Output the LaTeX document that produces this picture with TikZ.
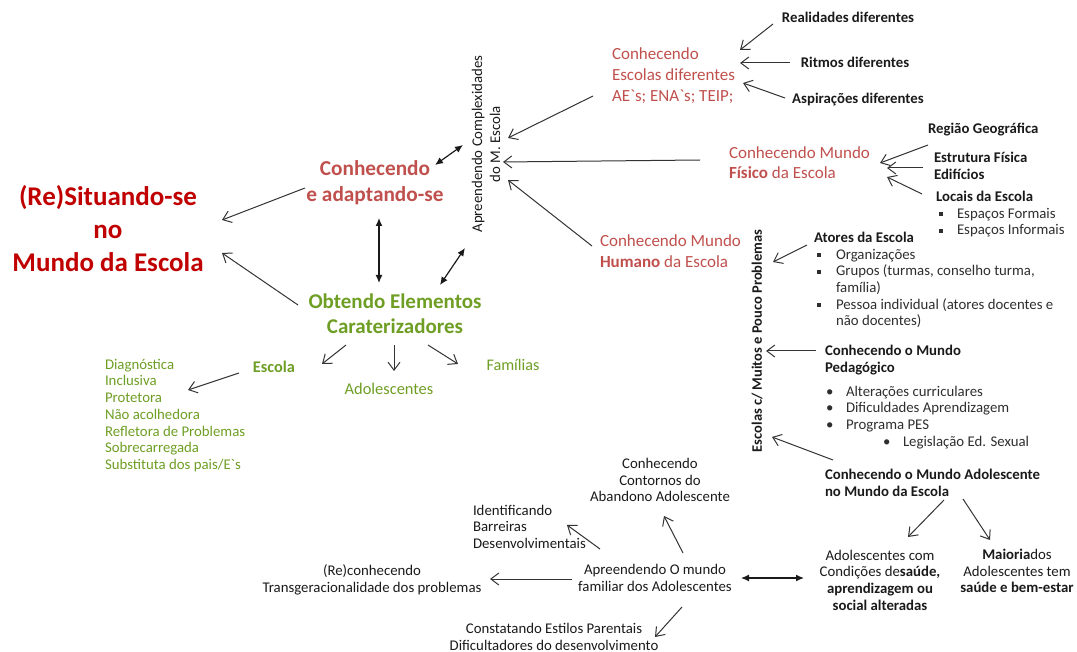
\documentclass[tikz,border=0pt]{standalone}
\usepackage{fontspec}
\setmainfont{Carlito}
\usetikzlibrary{arrows.meta,calc}
\definecolor{titlered}{HTML}{C00000}
\definecolor{softred}{HTML}{C0504D}
\definecolor{leaf}{HTML}{6E9E24}
\definecolor{ink}{HTML}{1A1A1A}
\definecolor{soft}{HTML}{2E2E2E}
\definecolor{wire}{HTML}{333333}
\newcommand\fsz[2]{\fontsize{#1}{#2}\selectfont}
\newcommand\sqb{\rule[2pt]{4pt}{4pt}}
\newcommand\gr{\textasciigrave}
\tikzset{
  every node/.style={inner sep=0pt, outer sep=0pt, text=ink},
  lab/.style={font=\fsz{14.8}{16.7}},
  blab/.style={font=\bfseries\fsz{14.8}{16.7}},
  arr/.style={draw=wire, line width=1pt, -{Straight Barb[length=8pt,width=12pt,line width=1pt]}},
  dbl/.style={draw=ink, line width=1.2pt, {Latex[length=8pt,width=7pt]}-{Latex[length=8pt,width=7pt]}},
}
\begin{document}
\begin{tikzpicture}[x=1pt,y=-1pt]
\useasboundingbox (0,0) rectangle (1077,652);

% central concept and its two pillars
\node[align=center, text=titlered, font=\bfseries\fsz{27}{33}] (title) at (108,229)
  {(Re)Situando-se\\no\\Mundo da Escola};
\node[align=center, text=softred, font=\bfseries\fsz{21.3}{26}] (cad) at (375,183)
  {Conhecendo\\e adaptando-se};
\node[align=center, text=leaf, font=\bfseries\fsz{21}{25}] (obt) at (395,314)
  {Obtendo Elementos\\Caraterizadores};
\node[lab, align=center, rotate=90, font=\fsz{14.8}{18}] (apr) at (486,144)
  {Apreendendo Complexidades\\do M. Escola};

% school types
\node[align=left, anchor=north west, text=softred, font=\fsz{17}{21}] (esc) at (612,47.5)
  {Conhecendo\\Escolas diferentes\\AE\gr s; ENA\gr s; TEIP;};
\node[blab] (real) at (848,17) {Realidades diferentes};
\node[blab] (ritm) at (855,62) {Ritmos diferentes};
\node[blab] (aspi) at (858,100) {Aspirações diferentes};

% physical world
\node[align=left, anchor=north west, text=softred, font=\fsz{17}{20}] (fis) at (729,146.5)
  {Conhecendo Mundo\\\textbf{Físico} da Escola};
\node[blab, anchor=west] (reg) at (928,130) {Região Geográfica};
\node[blab, align=left, anchor=north west] (estr) at (934,152) {Estrutura Física\\Edifícios};
\node[lab, align=left, anchor=north west] (loc) at (936,191)
  {\textbf{Locais da Escola}\\
   \textcolor{soft}{\makebox[21pt][l]{\hspace{3pt}\sqb}Espaços Formais}\\
   \textcolor{soft}{\makebox[21pt][l]{\hspace{3pt}\sqb}Espaços Informais}};

% human world
\node[align=left, anchor=north west, text=softred, font=\fsz{17}{21}] (hum) at (600,234.5)
  {Conhecendo Mundo\\\textbf{Humano} da Escola};
\node[blab, rotate=90, font=\bfseries\fsz{14.5}{17}] (esv) at (757,341) {Escolas c/ Muitos e Pouco Problemas};
\node[lab, align=left, anchor=north west] (atores) at (814,232)
  {\textbf{Atores da Escola}\\
   \textcolor{soft}{\makebox[22pt][l]{\hspace{3pt}\sqb}Organizações}\\
   \textcolor{soft}{\makebox[22pt][l]{\hspace{3pt}\sqb}Grupos (turmas, conselho turma,}\\
   \textcolor{soft}{\hspace{22pt}família)}\\
   \textcolor{soft}{\makebox[22pt][l]{\hspace{3pt}\sqb}Pessoa individual (atores docentes e}\\
   \textcolor{soft}{\hspace{22pt}não docentes)}};
\node[blab, align=left, anchor=north west] (ped) at (825,345)
  {Conhecendo o Mundo\\Pedagógico};
\node[lab, align=left, anchor=north west, text=soft] (pedl) at (826,386)
  {\makebox[20pt][l]{•}Alterações curriculares\\
   \makebox[20pt][l]{•}Dificuldades Aprendizagem\\
   \makebox[20pt][l]{•}Programa PES\\
   \hspace{57pt}\makebox[20pt][l]{•}Legislação Ed. Sexual};
\node[blab, align=left, anchor=north west] (adm) at (825,469)
  {Conhecendo o Mundo Adolescente\\no Mundo da Escola};
\node[lab, align=center] (acom) at (880,580)
  {Adolescentes com\\Condições de\textbf{saúde,}\\\textbf{aprendizagem ou}\\\textbf{social alteradas}};
\node[lab, align=center] (maio) at (1017,571)
  {\textbf{Maioria}dos\\Adolescentes tem\\\textbf{saúde e bem-estar}};

% family world
\node[lab, align=center] (apm) at (655,578) {Apreendendo O mundo\\familiar dos Adolescentes};
\node[lab, align=center] (cont) at (660,480) {Conhecendo\\Contornos do\\Abandono Adolescente};
\node[lab, align=left, anchor=north west] (ident) at (473,505) {Identificando\\Barreiras\\Desenvolvimentais};
\node[lab, align=center] (reco) at (372,580) {(Re)conhecendo\\Transgeracionalidade dos problemas};
\node[lab, align=center] (const) at (554,637) {Constatando Estilos Parentais\\Dificultadores do desenvolvimento};

% characterising elements
\node[text=leaf, font=\bfseries\fsz{16.3}{18}] (gesc) at (274,367) {Escola};
\node[text=leaf, font=\fsz{16.4}{18}] (gadol) at (389,389) {Adolescentes};
\node[text=leaf, font=\fsz{16.2}{18}] (gfam) at (513,365) {Famílias};
\node[lab, align=left, anchor=north west, text=leaf] (glist) at (105,359)
  {Diagnóstica\\Inclusiva\\Protetora\\Não acolhedora\\Refletora de Problemas\\Sobrecarregada\\Substituta dos pais/E\gr s};

% connectors
\draw[arr] ($(cad)+(-70,5)$) -- ($(title)+(114,-9)$);
\draw[arr] ($(obt)+(-97,-9)$) -- ($(title)+(114,24)$);
\draw[dbl] ($(cad)+(60,-18)$) -- ($(apr)+(-23,1)$);
\draw[dbl] ($(cad)+(4,35)$) -- ($(obt)+(-16,-31)$);
\draw[dbl] ($(obt)+(45,-29)$) -- ($(apr)+(-21,104)$);

\draw[arr] ($(esc.north west)+(-19,48.5)$) -- ($(apr)+(22,-6)$);
\draw[arr] ($(fis.north west)+(-29,13.5)$) -- ($(apr)+(17,18)$);
\draw[arr] ($(hum.north west)+(-8,11.5)$) -- ($(apr)+(22,36)$);

\draw[arr] ($(real)+(-75,7)$) -- ($(esc.north west)+(128,2.5)$);
\draw[arr] ($(ritm)+(-65,1)$) -- ($(esc.north west)+(128,15.5)$);
\draw[arr] ($(aspi)+(-73,-2)$) -- ($(esc.north west)+(131,35.5)$);

\draw[arr] ($(reg.west)+(0,15)$) -- ($(fis.north west)+(151,16.5)$);
\draw[arr] ($(estr.north west)+(-11,16)$) -- ($(fis.north west)+(158,21.5)$);
\draw[arr] ($(loc.north west)+(-14,3)$) -- ($(fis.north west)+(158,30.5)$);

\draw[arr] ($(atores.north west)+(-7,13)$) -- ($(esv)+(16,-79)$);
\draw[arr] ($(ped.north west)+(-9,6)$) -- ($(esv)+(9,10)$);
\draw[arr] ($(adm.north west)+(8,-9)$) -- ($(esv)+(15,96)$);
\draw[arr] ($(adm.north west)+(119,31)$) -- ($(acom)+(28,-43)$);
\draw[arr] ($(adm.north west)+(138,30)$) -- ($(maio)+(-27,-31)$);

\draw[dbl] ($(apm)+(86,0)$) -- ($(acom)+(-76,-2)$);
\draw[arr] ($(apm)+(28,-25)$) -- ($(cont)+(4,36)$);
\draw[arr] ($(apm)+(-55,-29)$) -- ($(ident.north west)+(94,20)$);
\draw[arr] ($(apm)+(-83,1)$) -- ($(reco)+(118,-1)$);
\draw[arr] ($(apm)+(27,29)$) -- ($(const)+(101,0)$);

\draw[arr] ($(obt)+(-49,31)$) -- ($(gesc)+(48,-3)$);
\draw[arr] ($(obt)+(-1,31)$) -- ($(gadol)+(5,-18)$);
\draw[arr] ($(obt)+(33,31)$) -- ($(gfam)+(-55,-1)$);
\draw[arr] ($(gesc)+(-35,6)$) -- ($(glist.north west)+(83,31)$);
\end{tikzpicture}
\end{document}
